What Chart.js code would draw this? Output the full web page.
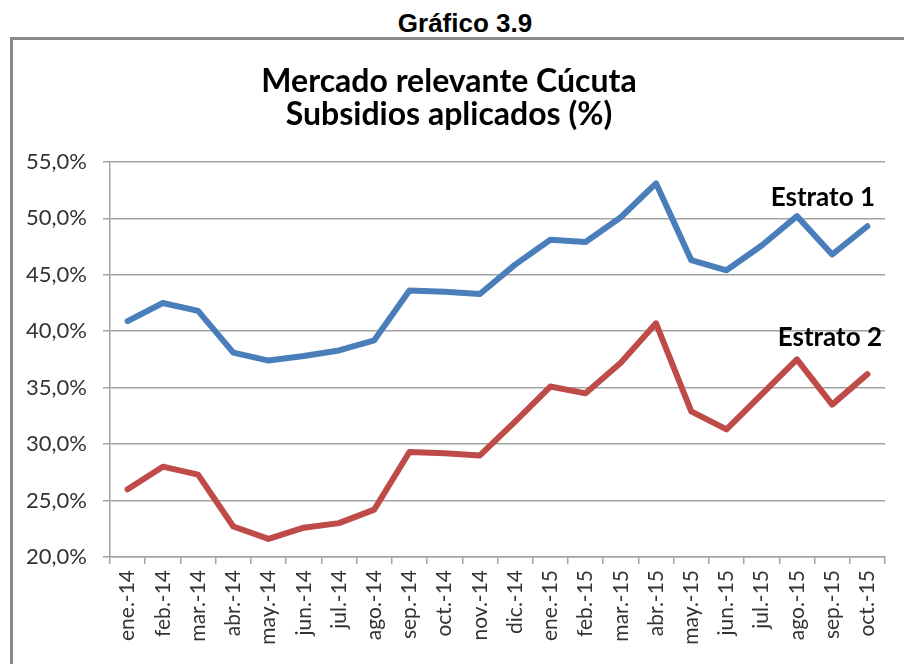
<!DOCTYPE html>
<html>
<head>
<meta charset="utf-8">
<script src="https://cdn.jsdelivr.net/npm/chart.js@4"></script>
<style>
    html, body { margin: 0; padding: 0; background: #fff; overflow: hidden; width: 904px; height: 664px; }
    #caption {
        position: absolute; left: 365px; top: 10px; width: 200px;
        text-align: center; font: bold 26px 'Liberation Sans', Arial, sans-serif;
        line-height: 26px; color: #000;
    }
    #frame {
        position: absolute; left: 10px; top: 37px; width: 1000px; height: 700px;
        border-left: 3px solid #8a8a8a; border-top: 3px solid #8a8a8a;
    }
    #wrap { position: absolute; left: 13px; top: 40px; width: 891px; height: 624px; }
</style>
</head>
<body>
<div id="caption">Gráfico 3.9</div>
<div id="frame"></div>
<div id="wrap"><canvas id="subsidiosChart"></canvas></div>
<script>
const months = ['ene.-14', 'feb.-14', 'mar.-14', 'abr.-14', 'may.-14', 'jun.-14', 'jul.-14', 'ago.-14',
    'sep.-14', 'oct.-14', 'nov.-14', 'dic.-14', 'ene.-15', 'feb.-15', 'mar.-15', 'abr.-15',
    'may.-15', 'jun.-15', 'jul.-15', 'ago.-15', 'sep.-15', 'oct.-15'];
const estrato1 = [40.9, 42.5, 41.8, 38.1, 37.4, 37.8, 38.3, 39.2, 43.6, 43.5, 43.3, 45.9,
    48.1, 47.9, 50.1, 53.1, 46.3, 45.4, 47.6, 50.2, 46.8, 49.3];
const estrato2 = [26.0, 28.0, 27.3, 22.7, 21.6, 22.6, 23.0, 24.2, 29.3, 29.2, 29.0, 32.0,
    35.1, 34.5, 37.2, 40.7, 32.9, 31.3, 34.4, 37.5, 33.5, 36.2];
const yTicks = [20, 25, 30, 35, 40, 45, 50, 55];
const seriesNames = ['Estrato 1', 'Estrato 2'];

const gridGray = '#a3a3a3';
const textGray = '#333333';

// series names written next to the lines instead of a legend
const seriesLabels = {
    id: 'seriesLabels',
    afterDatasetsDraw(chart) {
        const { ctx, chartArea, scales } = chart;
        ctx.save();
        ctx.font = 'bold 26px Lato, sans-serif';
        ctx.fillStyle = '#000';
        ctx.textAlign = 'right';
        ctx.textBaseline = 'middle';
        ctx.fillText(seriesNames[0], chartArea.right - 10, scales.y.getPixelForValue(51.8));
        ctx.fillText(seriesNames[1], chartArea.right - 3, scales.y.getPixelForValue(39.4));
        ctx.restore();
    }
};

const ctx = document.getElementById('subsidiosChart').getContext('2d');
new Chart(ctx, {
    type: 'line',
    data: {
        labels: months,
        datasets: [
            {
                label: seriesNames[0],
                data: estrato1,
                borderColor: '#4A7EBB',
                borderWidth: 6,
                pointRadius: 0,
                tension: 0,
                borderJoinStyle: 'round',
                borderCapStyle: 'round'
            },
            {
                label: seriesNames[1],
                data: estrato2,
                borderColor: '#BE4B48',
                borderWidth: 6,
                pointRadius: 0,
                tension: 0,
                borderJoinStyle: 'round',
                borderCapStyle: 'round'
            }
        ]
    },
    options: {
        responsive: true,
        maintainAspectRatio: false,
        animation: false,
        layout: { padding: { left: 0, right: 19, top: 0, bottom: 0 } },
        plugins: {
            legend: { display: false },
            tooltip: { enabled: false },
            title: {
                display: true,
                text: ['Mercado relevante Cúcuta', 'Subsidios aplicados (%)'],
                color: '#000',
                font: { family: 'Lato', size: 32, weight: 'bold', lineHeight: 1.03 },
                padding: { top: 25, bottom: 31 }
            }
        },
        scales: {
            x: {
                offset: true,
                grid: {
                    offset: true,
                    drawOnChartArea: false,
                    drawTicks: true,
                    tickLength: 7,
                    color: gridGray,
                    lineWidth: 1.5
                },
                border: { display: true, color: gridGray, width: 1.5 },
                ticks: {
                    color: textGray,
                    font: { family: 'Lato', size: 21 },
                    minRotation: 90,
                    maxRotation: 90,
                    autoSkip: false,
                    padding: 6
                },
                afterFit: (scale) => { scale.height = 107; }
            },
            y: {
                min: yTicks[0],
                max: yTicks[yTicks.length - 1],
                afterBuildTicks: (scale) => { scale.ticks = yTicks.map(v => ({ value: v })); },
                grid: {
                    color: gridGray,
                    lineWidth: 1.5,
                    tickLength: 7
                },
                border: { display: true, color: gridGray, width: 1.5 },
                ticks: {
                    color: textGray,
                    font: { family: 'Lato', size: 22 },
                    padding: 16,
                    callback: (v) => v.toFixed(1).replace('.', ',') + '%'
                },
                afterFit: (scale) => { scale.width = 97; }
            }
        }
    },
    plugins: [seriesLabels]
});
</script>
</body>
</html>
